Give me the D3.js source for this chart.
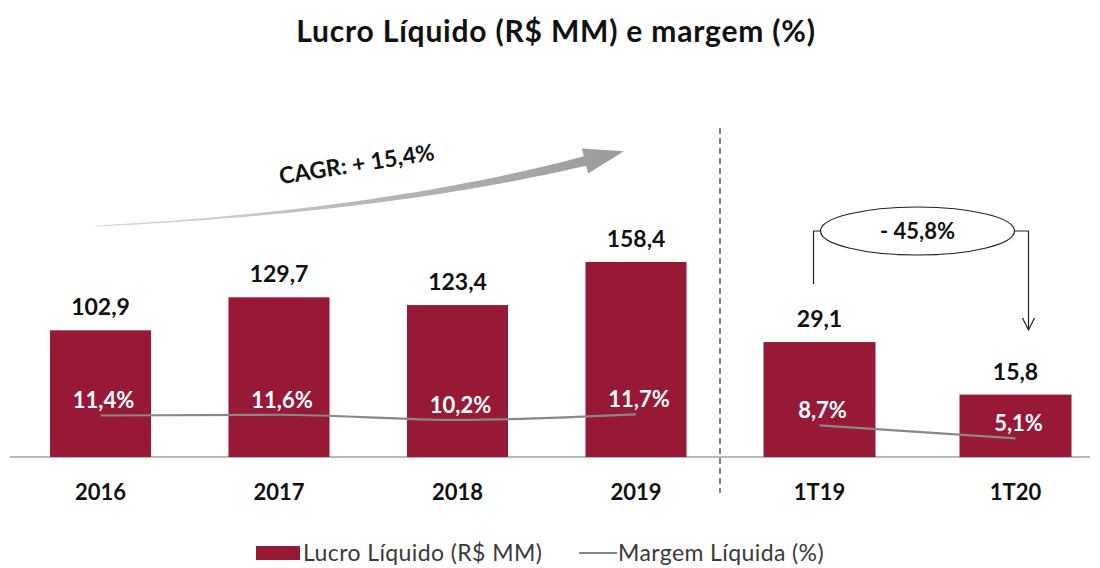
<!DOCTYPE html>
<html><head><meta charset="utf-8">
<script src="https://cdn.jsdelivr.net/npm/d3@7"></script>
<style>body{margin:0;background:#fff;}svg{display:block;font-family:Lato,"Open Sans",sans-serif;}</style>
</head><body>
<svg id="c" width="1100" height="568"></svg>
<script>
const years = ["2016","2017","2018","2019"];
const lucroAnual = [102.9,129.7,123.4,158.4];
const margemAnual = [11.4,11.6,10.2,11.7];
const quarters = ["1T19","1T20"];
const lucroTri = [29.1,15.8];
const margemTri = [8.7,5.1];
const titleText = "Lucro Líquido (R$ MM) e margem (%)";
const cagrText = "CAGR: + 15,4%";
const varText = "- 45,8%";
const legendLabels = ["Lucro Líquido (R$ MM)","Margem Líquida (%)"];

const fmt = v => v.toFixed(1).replace(".", ",");
const BAR = "#971935", LINE = "#888888";
const base = 457;

const svg = d3.select("#c");

const xA = d3.scaleBand().domain(years).range([11.25, 725.25]).paddingInner(0.434).paddingOuter(0.217);
const xQ = d3.scaleBand().domain(quarters).range([721.5, 1113.5]).paddingInner(0.4286).paddingOuter(0.2143);
const yA = d3.scaleLinear().domain([0,160]).range([base, base-197]);
const yQ = d3.scaleLinear().domain([0,30]).range([base, base-118.5]);
const yM = d3.scaleLinear().domain([0,12]).range([base, base-43.7]);

// title
svg.append("text").attr("x",556).attr("y",42).attr("text-anchor","middle")
  .attr("font-size",30).attr("letter-spacing",0.8).attr("font-weight",700).attr("fill","#111").text(titleText);

// arrow (CAGR)
const defs = svg.append("defs");
const gr = defs.append("linearGradient").attr("id","ag").attr("x1","0").attr("x2","1").attr("y1","0").attr("y2","0");
gr.append("stop").attr("offset","0").attr("stop-color","#d8d8d8");
gr.append("stop").attr("offset","1").attr("stop-color","#9a9a9a");
{
  const cx0 = xA("2016")+xA.bandwidth()/2 - 5;
  const cx2 = xA("2019")+xA.bandwidth()/2 - 51;
  const P0=[cx0,226], P1=[380,212], P2=[cx2,161];
  const B = t => [ (1-t)*(1-t)*P0[0]+2*(1-t)*t*P1[0]+t*t*P2[0], (1-t)*(1-t)*P0[1]+2*(1-t)*t*P1[1]+t*t*P2[1] ];
  const D = t => { const dx=2*(1-t)*(P1[0]-P0[0])+2*t*(P2[0]-P1[0]), dy=2*(1-t)*(P1[1]-P0[1])+2*t*(P2[1]-P1[1]); const l=Math.hypot(dx,dy); return [dx/l,dy/l]; };
  const up=[], lo=[];
  for(let i=0;i<=40;i++){ const t=i/40, p=B(t), d=D(t), n=[-d[1],d[0]], w=0.6+4.2*Math.pow(t,1.5);
    up.push([p[0]-w*n[0],p[1]-w*n[1]]); lo.push([p[0]+w*n[0],p[1]+w*n[1]]); }
  const d=D(1), n=[-d[1],d[0]];
  const tip=[P2[0]+40*d[0],P2[1]+40*d[1]];
  const h1=[P2[0]-13*n[0],P2[1]-13*n[1]], h2=[P2[0]+13*n[0],P2[1]+13*n[1]];
  const pts = up.concat([h1,tip,h2]).concat(lo.reverse());
  svg.append("path").attr("d", d3.line()(pts)+"Z").attr("fill","url(#ag)");
}
svg.append("text").attr("transform","translate(358,172) rotate(-9)").attr("text-anchor","middle")
  .attr("font-size",23).attr("font-weight",700).attr("fill","#111").text(cagrText);

// separator
svg.append("line").attr("x1",720).attr("x2",720).attr("y1",128).attr("y2",493)
  .attr("stroke","#555").attr("stroke-width",1.5).attr("stroke-dasharray","6,4");

// baseline
svg.append("line").attr("x1",10).attr("x2",1090).attr("y1",base).attr("y2",base)
  .attr("stroke","#a0a0a0").attr("stroke-width",1.5);

function group(x, y, cats, vals, margins){
  const g = svg.append("g");
  g.selectAll("rect").data(cats).join("rect")
    .attr("x", c=>x(c)).attr("width", x.bandwidth())
    .attr("y", (c,i)=>y(vals[i])).attr("height", (c,i)=>base-y(vals[i]))
    .attr("fill", BAR);
  g.selectAll("text.v").data(cats).join("text").attr("class","v")
    .attr("x", c=>x(c)+x.bandwidth()/2).attr("y", (c,i)=>y(vals[i])-15)
    .attr("text-anchor","middle").attr("font-size",23).attr("font-weight",700).attr("fill","#111")
    .text((c,i)=>fmt(vals[i]));
  const line = d3.line().x(d=>x(d.c)+x.bandwidth()/2).y(d=>yM(d.m)).curve(d3.curveMonotoneX);
  g.append("path").datum(cats.map((c,i)=>({c, m:margins[i]})))
    .attr("d", line).attr("fill","none").attr("stroke",LINE).attr("stroke-width",2.2);
  g.selectAll("text.m").data(cats).join("text").attr("class","m")
    .attr("x", c=>x(c)+x.bandwidth()/2+3).attr("y", (c,i)=>yM(margins[i])-7)
    .attr("text-anchor","middle").attr("font-size",22).attr("font-weight",700).attr("fill","#fff")
    .text((c,i)=>fmt(margins[i])+"%");
  const ax = svg.append("g").attr("transform",`translate(0,${base})`)
    .call(d3.axisBottom(x).tickSize(0).tickPadding(27));
  ax.select(".domain").remove();
  ax.selectAll("text").attr("font-size",22).attr("font-weight",700).attr("fill","#111")
    .attr("font-family","Lato, 'Open Sans', sans-serif");
}
group(xA, yA, years, lucroAnual, margemAnual);
group(xQ, yQ, quarters, lucroTri, margemTri);

// variation annotation
{
  const c1 = xQ("1T19")+xQ.bandwidth()/2, c2 = xQ("1T20")+xQ.bandwidth()/2;
  const mx = (c1+c2)/2, my = 231;
  svg.append("ellipse").attr("cx",mx).attr("cy",my).attr("rx",97).attr("ry",24)
    .attr("fill","#fff").attr("stroke","#222").attr("stroke-width",1.2);
  svg.append("text").attr("x",mx).attr("y",my+8).attr("text-anchor","middle")
    .attr("font-size",22).attr("font-weight",700).attr("fill","#111").text(varText);
  const lx = c1-6, rx = c2+13;
  svg.append("path").attr("d",`M${mx-97},${my}H${lx}V${284}`).attr("fill","none").attr("stroke","#222").attr("stroke-width",1.2);
  svg.append("path").attr("d",`M${mx+97},${my}H${rx}V${330}`).attr("fill","none").attr("stroke","#222").attr("stroke-width",1.2);
  svg.append("path").attr("d",`M${rx-6},${318}L${rx},${330}L${rx+6},${318}`).attr("fill","none").attr("stroke","#222").attr("stroke-width",1.2);
}

// legend
const lg = svg.append("g");
lg.append("rect").attr("x",256).attr("y",546).attr("width",44).attr("height",14).attr("fill",BAR);
lg.append("text").attr("x",303).attr("y",561).attr("font-size",23).attr("letter-spacing",0.4).attr("fill","#3a3a3a").text(legendLabels[0]);
lg.append("line").attr("x1",579).attr("x2",617).attr("y1",553).attr("y2",553).attr("stroke",LINE).attr("stroke-width",2);
lg.append("text").attr("x",618).attr("y",561).attr("font-size",23).attr("letter-spacing",0.4).attr("fill","#3a3a3a").text(legendLabels[1]);
</script>
</body></html>
